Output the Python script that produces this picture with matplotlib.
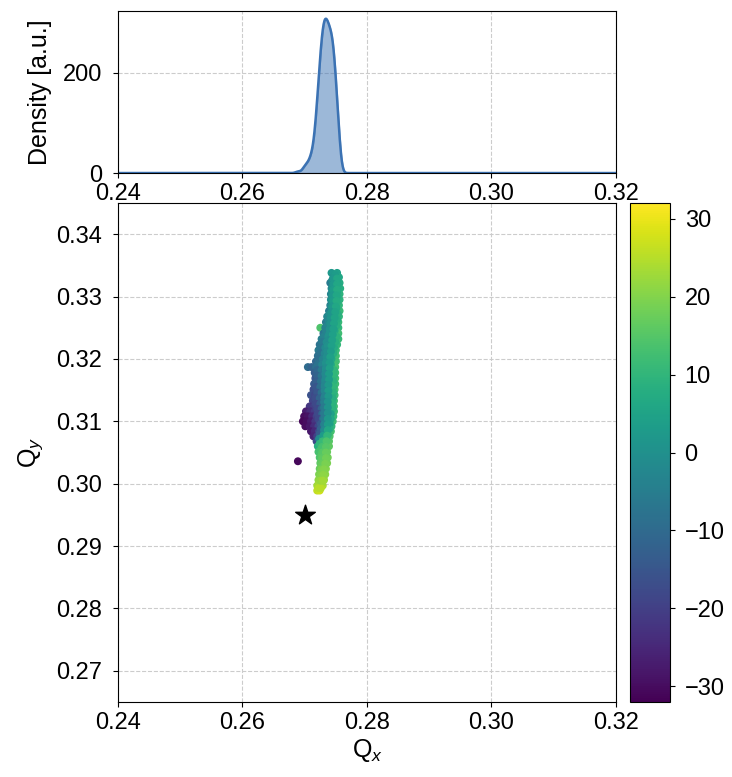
import numpy as np
import matplotlib
matplotlib.use("Agg")
import matplotlib.pyplot as plt

plt.rcParams['font.family'] = ['Liberation Sans', 'DejaVu Sans']
plt.rcParams['mathtext.fontset'] = 'custom'
plt.rcParams['mathtext.rm'] = 'Liberation Sans'
plt.rcParams['mathtext.it'] = 'Liberation Sans:italic'

# tune footprint, one line per row of the band (outer rows, core rows, ridge rows)
qx = [
    0.2743, 0.2752,
    0.2746, 0.2755,
    0.2741, 0.2749, 0.2756,
    0.2743, 0.2750, 0.2757,
    0.2742, 0.2749, 0.2756,
    0.2742, 0.2749, 0.2756,
    0.2741, 0.2748, 0.2755,
    0.2739, 0.2746, 0.2753, 0.2756,
    0.2736, 0.2743, 0.2750, 0.2755,
    0.2734, 0.2741, 0.2748, 0.2754,
    0.2725, 0.2733, 0.2740, 0.2747, 0.2754,
    0.2730, 0.2737, 0.2744, 0.2751, 0.2754,
    0.2727, 0.2734, 0.2741, 0.2748, 0.2754,
    0.2724, 0.2731, 0.2738, 0.2745, 0.2752,
    0.2722, 0.2729, 0.2736, 0.2743, 0.2750,
    0.2721, 0.2728, 0.2735, 0.2742, 0.2750,
    0.2718, 0.2725, 0.2732, 0.2739, 0.2746, 0.2750,
    0.2705, 0.2711, 0.2718, 0.2725, 0.2732, 0.2739, 0.2745, 0.2749,
    0.2716, 0.2723, 0.2730, 0.2737, 0.2744, 0.2749,
    0.2717, 0.2724, 0.2731, 0.2738, 0.2744, 0.2749,
    0.2715, 0.2722, 0.2729, 0.2736, 0.2743, 0.2749,
    0.2714, 0.2721, 0.2728, 0.2735, 0.2742, 0.2748,
    0.2710, 0.2716, 0.2723, 0.2730, 0.2737, 0.2743, 0.2748,
    0.2713, 0.2720, 0.2727, 0.2734, 0.2741, 0.2747,
    0.2708, 0.2715, 0.2722, 0.2729, 0.2736, 0.2742, 0.2747,
    0.2702, 0.2709, 0.2716, 0.2723, 0.2730, 0.2737, 0.2743, 0.2747,
    0.2699, 0.2705, 0.2712, 0.2719, 0.2726, 0.2733, 0.2740, 0.2746,
    0.2697, 0.2703, 0.2710, 0.2717, 0.2724, 0.2731, 0.2738, 0.2745,
    0.2701, 0.2708, 0.2715, 0.2722, 0.2729, 0.2736, 0.2743,
    0.2710, 0.2716, 0.2723, 0.2730, 0.2737, 0.2742,
    0.2714, 0.2720, 0.2727, 0.2734, 0.2740,
    0.2719, 0.2726, 0.2733, 0.2739,
    0.2721, 0.2728, 0.2735, 0.2739,
    0.2722, 0.2729, 0.2736,
    0.2724, 0.2731, 0.2737,
    0.2725, 0.2731, 0.2736,
    0.2724, 0.2730, 0.2734,
    0.2723, 0.2729, 0.2733,
    0.2722, 0.2728, 0.2731,
    0.2720, 0.2726, 0.2729,
    0.2720, 0.2724,
    0.2689,
    # core
    0.2749,
    0.2744, 0.2751,
    0.2746, 0.2753,
    0.2745, 0.2752,
    0.2745, 0.2752,
    0.2745, 0.2752,
    0.2744, 0.2751,
    0.2740, 0.2747, 0.2753,
    0.2738, 0.2745, 0.2752,
    0.2737, 0.2744, 0.2751,
    0.2734, 0.2741, 0.2748,
    0.2731, 0.2738, 0.2745, 0.2751,
    0.2728, 0.2735, 0.2742, 0.2749,
    0.2726, 0.2733, 0.2740, 0.2747,
    0.2725, 0.2732, 0.2739, 0.2746,
    0.2722, 0.2729, 0.2736, 0.2743,
    0.2721, 0.2728, 0.2735, 0.2742,
    0.2720, 0.2727, 0.2734, 0.2741, 0.2747,
    0.2720, 0.2727, 0.2734, 0.2741, 0.2747,
    0.2719, 0.2726, 0.2733, 0.2740, 0.2746,
    0.2718, 0.2725, 0.2732, 0.2739, 0.2746,
    0.2720, 0.2727, 0.2734, 0.2741, 0.2746,
    0.2717, 0.2724, 0.2731, 0.2738, 0.2745,
    0.2718, 0.2725, 0.2732, 0.2739, 0.2745,
    0.2720, 0.2727, 0.2734, 0.2741, 0.2745,
    0.2721, 0.2728, 0.2735, 0.2742,
    0.2722, 0.2729, 0.2736, 0.2742,
    0.2726, 0.2733, 0.2740,
    0.2726, 0.2733, 0.2740,
    0.2724, 0.2731, 0.2738,
    0.2723, 0.2730, 0.2736,
    0.2724, 0.2731, 0.2737,
    0.2726, 0.2733,
    0.2727, 0.2734,
    0.2728, 0.2734,
    0.2727, 0.2732,
    0.2726, 0.2731,
    0.2725, 0.2730,
    0.2723, 0.2728,
    0.2722, 0.2726,
    # ridge
    0.2746, 0.2752,
    0.2746, 0.2752,
    0.2746, 0.2752,
    0.2745, 0.2751,
    0.2745, 0.2751,
    0.2744, 0.2750,
    0.2743, 0.2749,
    0.2742, 0.2748,
    0.2741, 0.2747,
    0.2740, 0.2746,
    0.2739, 0.2745,
    0.2738, 0.2744,
    0.2737, 0.2743,
    0.2736, 0.2742,
    0.2735, 0.2741,
    0.2734, 0.2740,
    0.2734, 0.2740,
    0.2733, 0.2739,
    0.2733, 0.2739,
    0.2732, 0.2738,
    0.2732, 0.2738,
    0.2732, 0.2738,
    0.2731, 0.2737,
    0.2731, 0.2737,
    0.2731, 0.2737,
    0.2731, 0.2737,
    0.2731, 0.2737,
    0.2731, 0.2737,
    0.2730, 0.2736,
    0.2729, 0.2735,
    0.2728, 0.2734,
    0.2728, 0.2734,
    0.2728, 0.2734,
    0.2728, 0.2733,
    0.2727, 0.2731,
    0.2726, 0.2730,
    0.2725, 0.2729,
]
qy = [
    0.3338, 0.3338,
    0.3331, 0.3331,
    0.3322, 0.3322, 0.3322,
    0.3313, 0.3313, 0.3313,
    0.3304, 0.3304, 0.3304,
    0.3295, 0.3295, 0.3295,
    0.3286, 0.3286, 0.3286,
    0.3277, 0.3277, 0.3277, 0.3277,
    0.3268, 0.3268, 0.3268, 0.3268,
    0.3259, 0.3259, 0.3259, 0.3259,
    0.3250, 0.3250, 0.3250, 0.3250, 0.3250,
    0.3241, 0.3241, 0.3241, 0.3241, 0.3241,
    0.3232, 0.3232, 0.3232, 0.3232, 0.3232,
    0.3223, 0.3223, 0.3223, 0.3223, 0.3223,
    0.3214, 0.3214, 0.3214, 0.3214, 0.3214,
    0.3205, 0.3205, 0.3205, 0.3205, 0.3205,
    0.3196, 0.3196, 0.3196, 0.3196, 0.3196, 0.3196,
    0.3187, 0.3187, 0.3187, 0.3187, 0.3187, 0.3187, 0.3187, 0.3187,
    0.3178, 0.3178, 0.3178, 0.3178, 0.3178, 0.3178,
    0.3169, 0.3169, 0.3169, 0.3169, 0.3169, 0.3169,
    0.3160, 0.3160, 0.3160, 0.3160, 0.3160, 0.3160,
    0.3151, 0.3151, 0.3151, 0.3151, 0.3151, 0.3151,
    0.3142, 0.3142, 0.3142, 0.3142, 0.3142, 0.3142, 0.3142,
    0.3133, 0.3133, 0.3133, 0.3133, 0.3133, 0.3133,
    0.3124, 0.3124, 0.3124, 0.3124, 0.3124, 0.3124, 0.3124,
    0.3116, 0.3116, 0.3116, 0.3116, 0.3116, 0.3116, 0.3116, 0.3116,
    0.3108, 0.3108, 0.3108, 0.3108, 0.3108, 0.3108, 0.3108, 0.3108,
    0.3100, 0.3100, 0.3100, 0.3100, 0.3100, 0.3100, 0.3100, 0.3100,
    0.3092, 0.3092, 0.3092, 0.3092, 0.3092, 0.3092, 0.3092,
    0.3084, 0.3084, 0.3084, 0.3084, 0.3084, 0.3084,
    0.3076, 0.3076, 0.3076, 0.3076, 0.3076,
    0.3068, 0.3068, 0.3068, 0.3068,
    0.3060, 0.3060, 0.3060, 0.3060,
    0.3051, 0.3051, 0.3051,
    0.3042, 0.3042, 0.3042,
    0.3033, 0.3033, 0.3033,
    0.3024, 0.3024, 0.3024,
    0.3015, 0.3015, 0.3015,
    0.3006, 0.3006, 0.3006,
    0.2997, 0.2997, 0.2997,
    0.2989, 0.2989,
    0.3036,
    # core
    0.3334,
    0.3326, 0.3326,
    0.3317, 0.3317,
    0.3308, 0.3308,
    0.3300, 0.3300,
    0.3290, 0.3290,
    0.3281, 0.3281,
    0.3272, 0.3272, 0.3272,
    0.3263, 0.3263, 0.3263,
    0.3254, 0.3254, 0.3254,
    0.3245, 0.3245, 0.3245,
    0.3236, 0.3236, 0.3236, 0.3236,
    0.3227, 0.3227, 0.3227, 0.3227,
    0.3218, 0.3218, 0.3218, 0.3218,
    0.3209, 0.3209, 0.3209, 0.3209,
    0.3200, 0.3200, 0.3200, 0.3200,
    0.3191, 0.3191, 0.3191, 0.3191,
    0.3182, 0.3182, 0.3182, 0.3182, 0.3182,
    0.3173, 0.3173, 0.3173, 0.3173, 0.3173,
    0.3164, 0.3164, 0.3164, 0.3164, 0.3164,
    0.3155, 0.3155, 0.3155, 0.3155, 0.3155,
    0.3146, 0.3146, 0.3146, 0.3146, 0.3146,
    0.3137, 0.3137, 0.3137, 0.3137, 0.3137,
    0.3128, 0.3128, 0.3128, 0.3128, 0.3128,
    0.3120, 0.3120, 0.3120, 0.3120, 0.3120,
    0.3112, 0.3112, 0.3112, 0.3112,
    0.3104, 0.3104, 0.3104, 0.3104,
    0.3096, 0.3096, 0.3096,
    0.3088, 0.3088, 0.3088,
    0.3080, 0.3080, 0.3080,
    0.3072, 0.3072, 0.3072,
    0.3064, 0.3064, 0.3064,
    0.3055, 0.3055,
    0.3046, 0.3046,
    0.3037, 0.3037,
    0.3028, 0.3028,
    0.3019, 0.3019,
    0.3010, 0.3010,
    0.3001, 0.3001,
    0.2993, 0.2993,
    # ridge
    0.3329, 0.3329,
    0.3320, 0.3320,
    0.3311, 0.3311,
    0.3302, 0.3302,
    0.3293, 0.3293,
    0.3284, 0.3284,
    0.3275, 0.3275,
    0.3266, 0.3266,
    0.3257, 0.3257,
    0.3248, 0.3248,
    0.3239, 0.3239,
    0.3230, 0.3230,
    0.3221, 0.3221,
    0.3212, 0.3212,
    0.3203, 0.3203,
    0.3194, 0.3194,
    0.3185, 0.3185,
    0.3176, 0.3176,
    0.3167, 0.3167,
    0.3158, 0.3158,
    0.3149, 0.3149,
    0.3140, 0.3140,
    0.3131, 0.3131,
    0.3122, 0.3122,
    0.3113, 0.3113,
    0.3104, 0.3104,
    0.3095, 0.3095,
    0.3086, 0.3086,
    0.3077, 0.3077,
    0.3068, 0.3068,
    0.3059, 0.3059,
    0.3050, 0.3050,
    0.3041, 0.3041,
    0.3032, 0.3032,
    0.3023, 0.3023,
    0.3014, 0.3014,
    0.3005, 0.3005,
]
colour_val = [
    2, 4,
    0, 6,
    -6, 2, 7,
    -2, 4, 8,
    -3, 3, 9,
    -1, 5, 9,
    -4, 3, 10,
    -5, 1, 6, 11,
    -3, 2, 5, 10,
    -6, 0, 4, 11,
    14, -4, 1, 5, 10,
    -7, -2, 3, 7, 12,
    -5, -1, 2, 6, 11,
    -8, -3, 1, 5, 10,
    -6, -4, 0, 4, 11,
    -9, -5, -1, 5, 12,
    -11, -6, -2, 3, 7, 12,
    -10, -12, -9, -5, 0, 4, 8, 13,
    -13, -8, -3, 2, 7, 12,
    -15, -10, -4, 1, 6, 13,
    -14, -11, -6, 0, 5, 12,
    -17, -12, -7, -1, 6, 13,
    -16, -18, -13, -6, 0, 6, 12,
    -19, -15, -9, -3, 4, 12,
    -22, -20, -16, -10, -2, 5, 13,
    -27, -24, -21, -15, -9, -1, 6, 12,
    -30, -29, -25, -20, -14, -7, 2, 11,
    -31, -30, -27, -22, -16, -8, 1, 12,
    -30, -28, -24, -18, -10, 0, 10,
    -28, -25, -18, -6, 5, 13,
    -26, -20, -6, 8, 14,
    -18, 5, 12, 15,
    8, 13, 15, 16,
    13, 15, 17,
    14, 16, 18,
    16, 17, 19,
    17, 19, 20,
    19, 20, 21,
    21, 22, 22,
    23, 24, 24,
    26, 27,
    -31,
    # core
    3,
    -2, 5,
    1, 7,
    0, 6,
    1, 7,
    2, 8,
    0, 6,
    -1, 3, 8,
    -2, 2, 7,
    -3, 2, 8,
    -4, 1, 6,
    -4, 0, 5, 9,
    -6, -1, 3, 8,
    -7, -2, 2, 7,
    -8, -3, 1, 8,
    -9, -4, 1, 6,
    -8, -3, 2, 6,
    -11, -6, 0, 5, 10,
    -12, -7, -1, 4, 10,
    -13, -8, -2, 3, 9,
    -15, -9, -3, 3, 10,
    -15, -9, -3, 3, 9,
    -17, -12, -6, 1, 8,
    -18, -13, -6, 1, 9,
    -18, -12, -5, 3, 9,
    -18, -11, -4, 4,
    -18, -11, -3, 6,
    -14, -6, 4,
    -12, -3, 8,
    -14, 2, 11,
    -2, 10, 14,
    10, 14, 16,
    13, 16,
    15, 17,
    16, 18,
    18, 19,
    19, 20,
    21, 22,
    23, 23,
    25, 25,
    # ridge
    2, 6,
    2, 6,
    3, 7,
    2, 6,
    3, 7,
    2, 6,
    1, 5,
    1, 5,
    0, 5,
    0, 4,
    0, 4,
    -1, 4,
    0, 4,
    -1, 3,
    -1, 4,
    0, 3,
    -1, 4,
    -2, 3,
    -2, 3,
    -3, 2,
    -3, 3,
    -4, 2,
    -5, 1,
    -6, 1,
    -6, 0,
    -6, 2,
    -4, 3,
    -2, 6,
    3, 10,
    11, 14,
    13, 15,
    15, 17,
    16, 18,
    17, 19,
    19, 20,
    20, 21,
    22, 23,
]
star_qx = 0.270
star_qy = 0.295

fig = plt.figure(figsize=(7.32, 7.77), dpi=100)
ax = fig.add_axes([0.1612, 0.0965, 0.6803, 0.6422])
ax_top = fig.add_axes([0.1612, 0.7773, 0.6803, 0.2085])
cax = fig.add_axes([0.8607, 0.0965, 0.0546, 0.6422])

# main tune diagram
sc = ax.scatter(qx, qy, c=colour_val, cmap='viridis', vmin=-32, vmax=32, s=22, zorder=3)
ax.scatter([star_qx], [star_qy], marker='*', s=220, color='black', zorder=4)
ax.set_xlim(0.24, 0.32)
ax.set_ylim(0.265, 0.345)
ax.set_xticks([0.24, 0.26, 0.28, 0.30, 0.32])
ax.set_yticks([0.27, 0.28, 0.29, 0.30, 0.31, 0.32, 0.33, 0.34])
ax.grid(True, linestyle='--', color='#cccccc', linewidth=0.8)
ax.set_axisbelow(True)
ax.tick_params(labelsize=17)
ax.tick_params(axis='y', pad=8)
ax.set_xlabel('Q$_{\\mathit{x}}$', fontsize=18, labelpad=2)
ax.set_ylabel('Q$_{\\mathit{y}}$', fontsize=18, labelpad=8)

cb = fig.colorbar(sc, cax=cax)
cb.set_ticks([-30, -20, -10, 0, 10, 20, 30])
cb.ax.tick_params(labelsize=17, pad=7)

# density of Qx (gaussian kde, Scott bandwidth)
qx_arr = np.array(qx)
bw = 1.06 * qx_arr.std() * len(qx_arr) ** (-0.2)
grid = np.linspace(0.24, 0.32, 1200)
dens = np.exp(-0.5 * ((grid[:, None] - qx_arr[None, :]) / bw) ** 2).sum(axis=1)
dens = dens / (len(qx_arr) * bw * np.sqrt(2 * np.pi))

ax_top.plot(grid, dens, color='#3b72b3', lw=1.8)
ax_top.fill_between(grid, dens, color='#3b72b3', alpha=0.5)
ax_top.set_xlim(0.24, 0.32)
ax_top.set_ylim(0, dens.max() * 1.05)
ax_top.set_xticks([0.24, 0.26, 0.28, 0.30, 0.32])
ax_top.set_yticks([0, 200])
ax_top.grid(True, linestyle='--', color='#cccccc', linewidth=0.8)
ax_top.set_axisbelow(True)
ax_top.tick_params(labelsize=17)
ax_top.tick_params(axis='y', pad=8)
ax_top.set_ylabel('Density [a.u.]', fontsize=18, labelpad=8)

fig.savefig('out.png', dpi=100)
